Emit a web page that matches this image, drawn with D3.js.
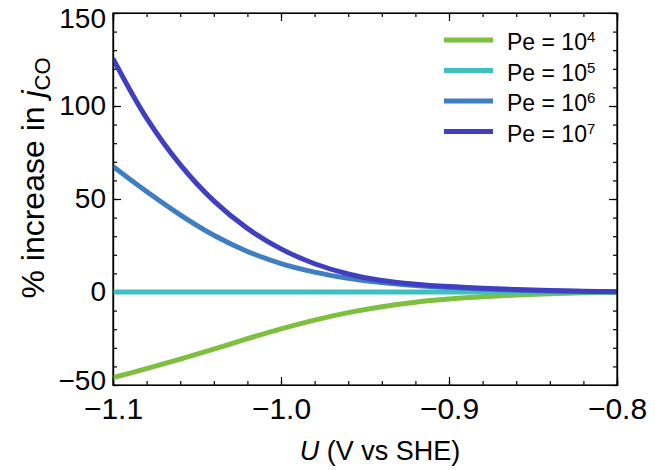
<!DOCTYPE html>
<html lang="en">
<head>
    <meta charset="UTF-8">
    <title>% increase in jCO</title>
    <script src="https://cdn.jsdelivr.net/npm/d3@7"></script>
    <style type="text/css">
        body { margin: 0; background: #fff; }
        svg text { font-family: "Liberation Sans", Arial, sans-serif; fill: #000; }
        .axis path, .axis line { fill: none; stroke: #000; stroke-width: 1.2px; }
    </style>
</head>
<body>
<script>
    // potential U (V vs SHE)
    const uValues = [-1.10, -1.08, -1.06, -1.04, -1.02, -1.00, -0.98, -0.96,
                     -0.94, -0.92, -0.90, -0.88, -0.86, -0.84, -0.82, -0.80];
    // % increase in j_CO for each Peclet number
    const pe4 = [-46, -41.2, -36.1, -30.7, -25.1, -19.8, -15.1, -11.1,
                 -7.9, -5.5, -3.8, -2.6, -1.6, -0.9, -0.4, 0];
    const pe5 = [0, 0, 0, 0, 0, 0, 0, 0, 0, 0, 0, 0, 0, 0, 0, 0];
    const pe6 = [67.5, 54, 41.5, 30.5, 21.8, 15.3, 10.7, 7.4,
                 5.1, 3.5, 2.4, 1.6, 1.0, 0.6, 0.3, 0.1];
    const pe7 = [125.5, 93.5, 68.5, 49, 34.2, 23.2, 15.2, 9.7,
                 6.2, 4.2, 2.9, 2.0, 1.3, 0.8, 0.4, 0.1];

    const seriesNames = ["4", "5", "6", "7"];
    const seriesColors = ["#7fbf3f", "#3fbfbf", "#3f7fbf", "#3f3fbf"];
    const seriesValues = [pe4, pe5, pe6, pe7];

    const xTicks = [-1.1, -1.0, -0.9, -0.8];
    const yTicks = [-50, 0, 50, 100, 150];

    const w = 655, h = 470;
    const margin = {left: 113, right: 38, top: 13, bottom: 85};

    const svg = d3.select("body").append("svg")
        .attr("width", w)
        .attr("height", h);

    const xScale = d3.scaleLinear()
        .domain([-1.1, -0.8])
        .range([margin.left, w - margin.right]);
    const yScale = d3.scaleLinear()
        .domain([-50, 150])
        .range([h - margin.bottom, margin.top]);

    const fmt = d => d3.format(".1f")(d).replace("-", "\u2212");
    const fmtY = d => String(d).replace("-", "\u2212");

    // minor ticks
    const xMinor = d3.range(-1.1, -0.7999, 0.02);
    const yMinor = d3.range(-50, 150.01, 10);

    function drawAxis(gen, translate) {
        return svg.append("g")
            .attr("class", "axis")
            .attr("transform", translate)
            .call(gen);
    }

    // minor ticks (inward, 4px)
    drawAxis(d3.axisBottom(xScale).tickValues(xMinor).tickSize(-4).tickFormat(""),
        "translate(0," + yScale(-50) + ")");
    drawAxis(d3.axisTop(xScale).tickValues(xMinor).tickSize(-4).tickFormat(""),
        "translate(0," + yScale(150) + ")");
    drawAxis(d3.axisLeft(yScale).tickValues(yMinor).tickSize(-4).tickFormat(""),
        "translate(" + xScale(-1.1) + ",0)");
    drawAxis(d3.axisRight(yScale).tickValues(yMinor).tickSize(-4).tickFormat(""),
        "translate(" + xScale(-0.8) + ",0)");

    // major ticks (inward, 8px) with labels on bottom and left
    const xAxis = drawAxis(d3.axisBottom(xScale).tickValues(xTicks).tickSize(-8).tickPadding(13).tickFormat(fmt),
        "translate(0," + yScale(-50) + ")");
    xAxis.selectAll("text").style("font-size", "30px").attr("dy", "0.71em");
    drawAxis(d3.axisTop(xScale).tickValues(xTicks).tickSize(-8).tickFormat(""),
        "translate(0," + yScale(150) + ")");
    const yAxis = drawAxis(d3.axisLeft(yScale).tickValues(yTicks).tickSize(-8).tickPadding(7).tickFormat(fmtY),
        "translate(" + xScale(-1.1) + ",0)");
    yAxis.selectAll("text").style("font-size", "28px")
        .attr("dy", d => d === 150 ? "0.5em" : (d === -50 ? "0.16em" : "0.32em"));
    drawAxis(d3.axisRight(yScale).tickValues(yTicks).tickSize(-8).tickFormat(""),
        "translate(" + xScale(-0.8) + ",0)");

    // clip to the frame
    svg.append("clipPath").attr("id", "plot-clip")
        .append("rect")
        .attr("x", xScale(-1.1))
        .attr("y", yScale(150))
        .attr("width", xScale(-0.8) - xScale(-1.1))
        .attr("height", yScale(-50) - yScale(150));

    const line = d3.line()
        .x((d, i) => xScale(uValues[i]))
        .y(d => yScale(d))
        .curve(d3.curveCatmullRom.alpha(0.5));

    svg.append("g")
        .attr("clip-path", "url(#plot-clip)")
        .selectAll("path")
        .data(seriesValues)
        .enter()
        .append("path")
        .attr("d", d => line(d))
        .attr("fill", "none")
        .attr("stroke", (d, i) => seriesColors[i])
        .attr("stroke-width", 5);

    // frame on top
    svg.append("rect")
        .attr("x", xScale(-1.1))
        .attr("y", yScale(150))
        .attr("width", xScale(-0.8) - xScale(-1.1))
        .attr("height", yScale(-50) - yScale(150))
        .attr("fill", "none")
        .attr("stroke", "#000")
        .attr("stroke-width", 1.2);

    // legend
    const legend = svg.append("g").attr("transform", "translate(444,40)");
    const rows = legend.selectAll("g")
        .data(seriesNames)
        .enter()
        .append("g")
        .attr("transform", (d, i) => "translate(0," + (i * 30.5) + ")");
    rows.append("line")
        .attr("x1", 0).attr("x2", 49)
        .attr("stroke", (d, i) => seriesColors[i])
        .attr("stroke-width", 5);
    const lt = rows.append("text")
        .attr("x", 63)
        .attr("y", 10)
        .style("font-size", "23px");
    lt.append("tspan").text("Pe = 10");
    lt.append("tspan")
        .attr("dy", -8)
        .style("font-size", "15px")
        .text(d => d);

    // axis titles
    const xt = svg.append("text")
        .attr("x", 380)
        .attr("y", 460)
        .attr("text-anchor", "middle")
        .style("font-size", "27px");
    xt.append("tspan").style("font-style", "italic").text("U");
    xt.append("tspan").text(" (V vs SHE)");

    const yt = svg.append("text")
        .attr("transform", "translate(44,178) rotate(-90)")
        .attr("text-anchor", "middle")
        .style("font-size", "32px");
    yt.append("tspan").text("% increase in ");
    yt.append("tspan").style("font-style", "italic").text("j");
    yt.append("tspan").attr("dy", 6).style("font-size", "22px").text("CO");
</script>
</body>
</html>
